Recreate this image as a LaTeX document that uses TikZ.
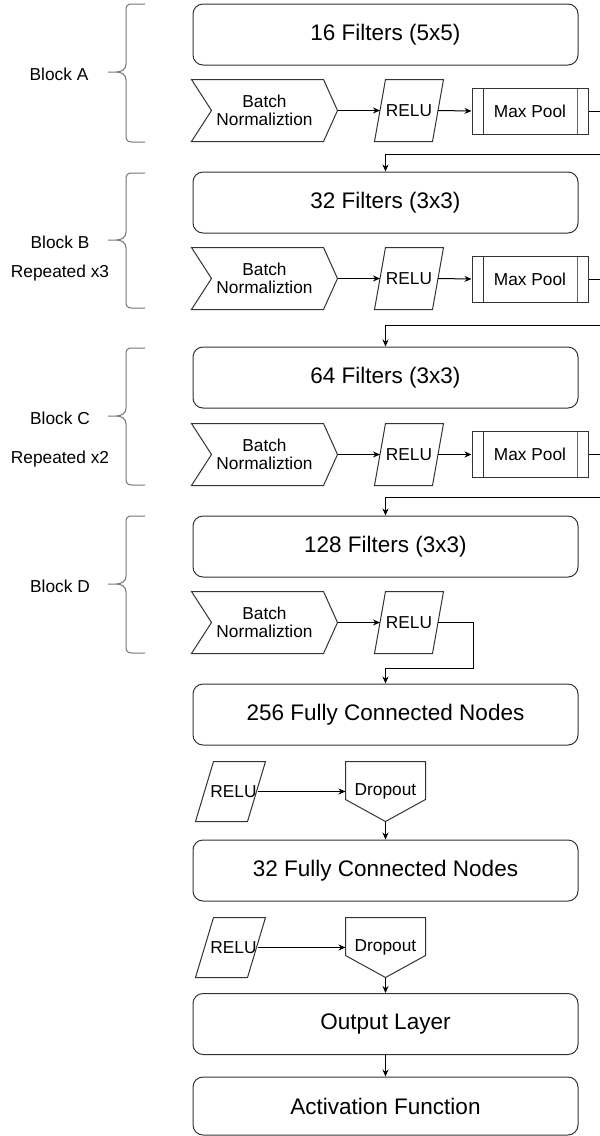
\documentclass[tikz,border=0pt]{standalone}
\usepackage{fontspec}
\setmainfont{Liberation Sans}
\usetikzlibrary{arrows.meta,calc}
\newcommand\bigtxt{\fontsize{22.5}{26}\selectfont}
\newcommand\smtxt{\fontsize{17.3}{18}\selectfont}
\newcommand\blkbrace[3]{%
 \draw[bracel] (145,#1) -- (132,#1) .. controls (127,#1) and (126,{#1+2}) .. (126,{#1+7}) -- (126,{#3-8}) .. controls (126,{#3-3}) and (122,#3) .. (116,#3) -- (108,#3)
  (116,#3) .. controls (122,#3) and (126,{#3+3}) .. (126,{#3+8}) -- (126,{#2-7}) .. controls (126,{#2-2}) and (127,#2) .. (132,#2) -- (145,#2);}
\newcommand\chev[1]{%
 \draw[shp] (#1.north west) -- ([xshift=-14pt]#1.north east) -- (#1.east) -- ([xshift=-14pt]#1.south east) -- (#1.south west) -- ([xshift=20pt]#1.west) -- cycle;}
\newcommand\drp[1]{%
 \draw[shp] (#1.north west) -- (#1.north east) -- ([yshift=22pt]#1.south east) -- (#1.south) -- ([yshift=22pt]#1.south west) -- cycle;}
\newcommand\para[2]{%
 \draw[shp] (#1.south west) -- ([xshift=#2]#1.north west) -- (#1.north east) -- ([xshift=-#2]#1.south east) -- cycle;}
\begin{document}
\begin{tikzpicture}[x=1pt,y=-1pt,line width=1pt,
 box/.style={draw=black!80, rounded corners=10pt, minimum width=385pt, minimum height=61pt, inner sep=0pt, font=\bigtxt},
 bnode/.style={minimum width=145pt, minimum height=61pt, inner sep=0pt, align=center, font=\smtxt},
 shp/.style={draw=black!80, line join=miter},
 relu/.style={minimum width=68pt, minimum height=61pt, inner sep=0pt, font=\smtxt},
 reluf/.style={minimum width=69pt, minimum height=59pt, inner sep=0pt, font=\smtxt},
 mpool/.style={draw=black!80, minimum width=116pt, minimum height=46pt, inner sep=0pt, font=\smtxt,
   path picture={\draw[black!80] ([xshift=11pt]path picture bounding box.north west) -- ([xshift=11pt]path picture bounding box.south west);
                 \draw[black!60] ([xshift=-11pt]path picture bounding box.north east) -- ([xshift=-11pt]path picture bounding box.south east);}},
 drop/.style={minimum width=79pt, minimum height=59pt, inner sep=0pt, font=\smtxt},
 lbl/.style={font=\smtxt, inner sep=0pt},
 bracel/.style={draw=black!55},
 arr/.style={draw=black, -{Stealth[length=7pt,width=6pt]}}
]
\useasboundingbox (0,0) rectangle (600,1136);
\clip (0,0) rectangle (600,1136);

% braces and labels
\blkbrace{4}{142}{72}
\blkbrace{173}{308}{240}
\blkbrace{348}{485}{416}
\blkbrace{516}{653}{584}
\node[lbl] (labA) at (59,74) {Block A};
\node[lbl] (labB) at (60,242) {Block B};
\node[lbl] (repB) at (60,273) {Repeated x3};
\node[lbl] (labC) at (60,418) {Block C};
\node[lbl] (repC) at (60,459) {Repeated x2};
\node[lbl] (labD) at (60,586) {Block D};

% filter boxes
\node[box] (fA) at (385.5,34.5) {16 Filters (5x5)};
\node[box] (fB) at (385.5,202.5) {32 Filters (3x3)};
\node[box] (fC) at (385.5,377.5) {64 Filters (3x3)};
\node[box] (fD) at (385.5,546.5) {128 Filters (3x3)};
\node[box] (fc1) at (385.5,714.5) {256 Fully Connected Nodes};
\node[box] (fc2) at (385.5,870.5) {32 Fully Connected Nodes};
\node[box] (out) at (385.5,1024) {Output Layer};
\node[box, minimum height=58pt] (act) at (385.5,1106) {Activation Function};

% block rows
\foreach \n/\y in {A/110.5,B/278.5,C/454.5,D/622.5}{
  \node[bnode] (bn\n) at (264.5,\y) {Batch\\Normaliztion};
  \chev{bn\n}
  \node[relu] (re\n) at (409,\y) {RELU};
  \para{re\n}{11pt}
  \draw[arr] (bn\n.east) -- ([xshift=5.5pt]re\n.west);
}
\foreach \n/\y in {A/111,B/279,C/454.5}{
  \node[mpool] (mp\n) at (530,\y) {Max Pool};
  \draw[arr] ([xshift=-5.5pt]re\n.east) -- (mp\n.west);
}

% connectors between blocks
\coordinate (jA) at (385.5,154);
\coordinate (jB) at (385.5,325);
\coordinate (jC) at (385.5,497);
\coordinate (jD) at (385.5,668);
\draw[arr] (mpA.east) -- ++(25,0) |- (jA) -- (fB.north);
\draw[arr] (mpB.east) -- ++(25,0) |- (jB) -- (fC.north);
\draw[arr] (mpC.east) -- ++(25,0) |- (jC) -- (fD.north);
\draw[arr] ([xshift=-5.5pt]reD.east) -- ++(35,0) |- (jD) -- (fc1.north);

% fully connected rows
\node[reluf] (r1) at (230.5,791.5) {\hspace*{6pt}RELU};
\para{r1}{18pt}
\node[drop] (d1) at (385.5,791.5) {Dropout};
\drp{d1}
\draw[arr] ([xshift=-8pt]r1.east) -- (r1.east -| d1.west);
\draw[arr] (d1.south) -- (fc2.north);

\node[reluf] (r2) at (230.5,947.5) {\hspace*{6pt}RELU};
\para{r2}{18pt}
\node[drop] (d2) at (385.5,947.5) {Dropout};
\drp{d2}
\draw[arr] ([xshift=-8pt]r2.east) -- (r2.east -| d2.west);
\draw[arr] (d2.south) -- (out.north);

\draw[arr] (out.south) -- (act.north);
\end{tikzpicture}
\end{document}
